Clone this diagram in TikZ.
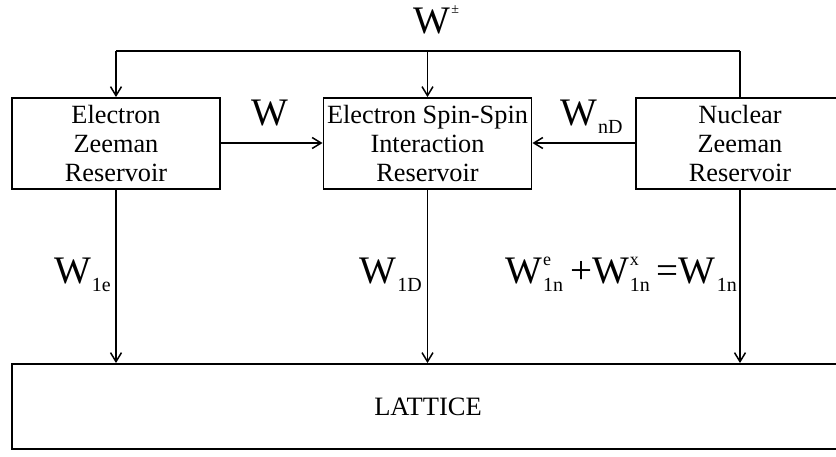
\documentclass[tikz,border=0pt]{standalone}
\usepackage{fontspec}
\setmainfont{Liberation Serif}
\usetikzlibrary{arrows.meta}
\newcommand\Wsub[1]{W\kern1pt\raisebox{-8pt}{\fontsize{20}{20}\selectfont #1}}
\newcommand\Wsubsup[2]{W\kern1pt\rlap{\raisebox{18pt}{\fontsize{18}{18}\selectfont #2}}\raisebox{-8pt}{\fontsize{20}{20}\selectfont #1}}
\tikzset{
  resbox/.style={draw, line width=1.9pt, minimum width=208pt, minimum height=91pt,
    inner sep=0pt, align=center, font=\fontsize{26.3}{29}\selectfont},
  conn/.style={line width=1.5pt},
  arr/.style={conn, -{Straight Barb[length=9pt,width=11pt]}},
  lbl/.style={inner sep=0pt, font=\fontsize{39}{39}\selectfont},
}
\begin{document}
\begin{tikzpicture}[x=1pt,y=-1pt]
\useasboundingbox (0,0) rectangle (836,456);
\begin{scope}
\clip (0,0) rectangle (836,456);
\node[resbox] (ez) at (116,143.5) {Electron\\Zeeman\\Reservoir};
\node[resbox] (ss) at (427.5,143.5) {Electron Spin-Spin\\Interaction\\Reservoir};
\node[resbox] (nz) at (740,143.5) {Nuclear\\Zeeman\\Reservoir};
\node[draw, line width=1.9pt, minimum width=832pt, minimum height=85pt, inner sep=0pt,
  font=\fontsize{26.5}{26.5}\selectfont] (lat) at (428,406.5) {LATTICE};
\end{scope}
\coordinate (busL) at (116,51);
\coordinate (busM) at (427.5,51);
\coordinate (busR) at (740,51);
\draw[conn] (busL) -- (busR);
\draw[arr] (busL) -- (ez.north);
\draw[arr] (busM) -- (ss.north);
\draw[conn] (busR) -- (nz.north);
\draw[arr] (ez.east |- 0,143) -- (ss.west |- 0,143);
\draw[arr] (nz.west |- 0,143) -- (ss.east |- 0,143);
\draw[arr] (ez.south) -- (ez.south |- lat.north);
\draw[arr] (ss.south) -- (ss.south |- lat.north);
\draw[arr] (nz.south) -- (nz.south |- lat.north);
\node[lbl, anchor=base] (wpm) at (432,33) {W\rlap{\kern1pt\raisebox{20pt}{\fontsize{14}{14}\selectfont ±}}};
\node[lbl, anchor=base] (w) at (270,125) {W};
\node[lbl, anchor=base west] (wnd) at (560,125) {\Wsub{nD}};
\node[lbl, anchor=base east] (w1e) at (111,283) {\Wsub{1e}};
\node[lbl, anchor=base east] (w1d) at (422,283) {\Wsub{1D}};
\node[lbl, anchor=base east] (w1n) at (737,283) {\Wsubsup{1n}{e}\hspace{7pt}+\Wsubsup{1n}{x}\hspace{7pt}=\Wsub{1n}};
\end{tikzpicture}
\end{document}
